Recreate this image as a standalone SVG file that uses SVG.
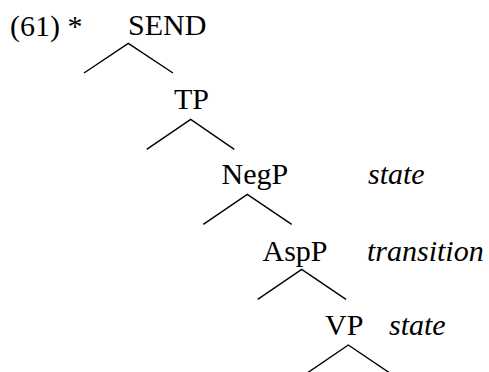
<svg xmlns="http://www.w3.org/2000/svg" width="489" height="372" viewBox="0 0 489 372">
<style>
.t{font-family:"Liberation Serif","Times New Roman",serif;font-size:30px;fill:#000}
.i{font-style:italic}
.br{fill:none;stroke:#000;stroke-width:1.4}
</style>
<rect width="489" height="372" fill="#fff"/>
<text class="t" x="10" y="36">(61) *</text>
<g id="SEND"><text class="t" x="128" y="35">SEND</text></g>
<g id="TP"><text class="t" x="174" y="109">TP</text></g>
<g id="NegP"><text class="t" x="221.5" y="184">NegP</text><text class="t i" x="368" y="184">state</text></g>
<g id="AspP"><text class="t" x="262.5" y="261">AspP</text><text class="t i" x="367" y="261">transition</text></g>
<g id="VP"><text class="t" x="325" y="335">VP</text><text class="t i" x="389" y="335">state</text></g>
<g id="connectors">
<polyline class="br" points="84,73 128.3,43.3 173,73"/>
<polyline class="br" points="146.7,149.3 190.7,119.3 234.3,149.3"/>
<polyline class="br" points="203.3,224.3 247.3,194.3 291.7,224.3"/>
<polyline class="br" points="257.7,299.3 301.7,269.3 346,299.3"/>
<polyline class="br" points="304.3,375 348.3,345 392.7,375"/>
</g>
</svg>
